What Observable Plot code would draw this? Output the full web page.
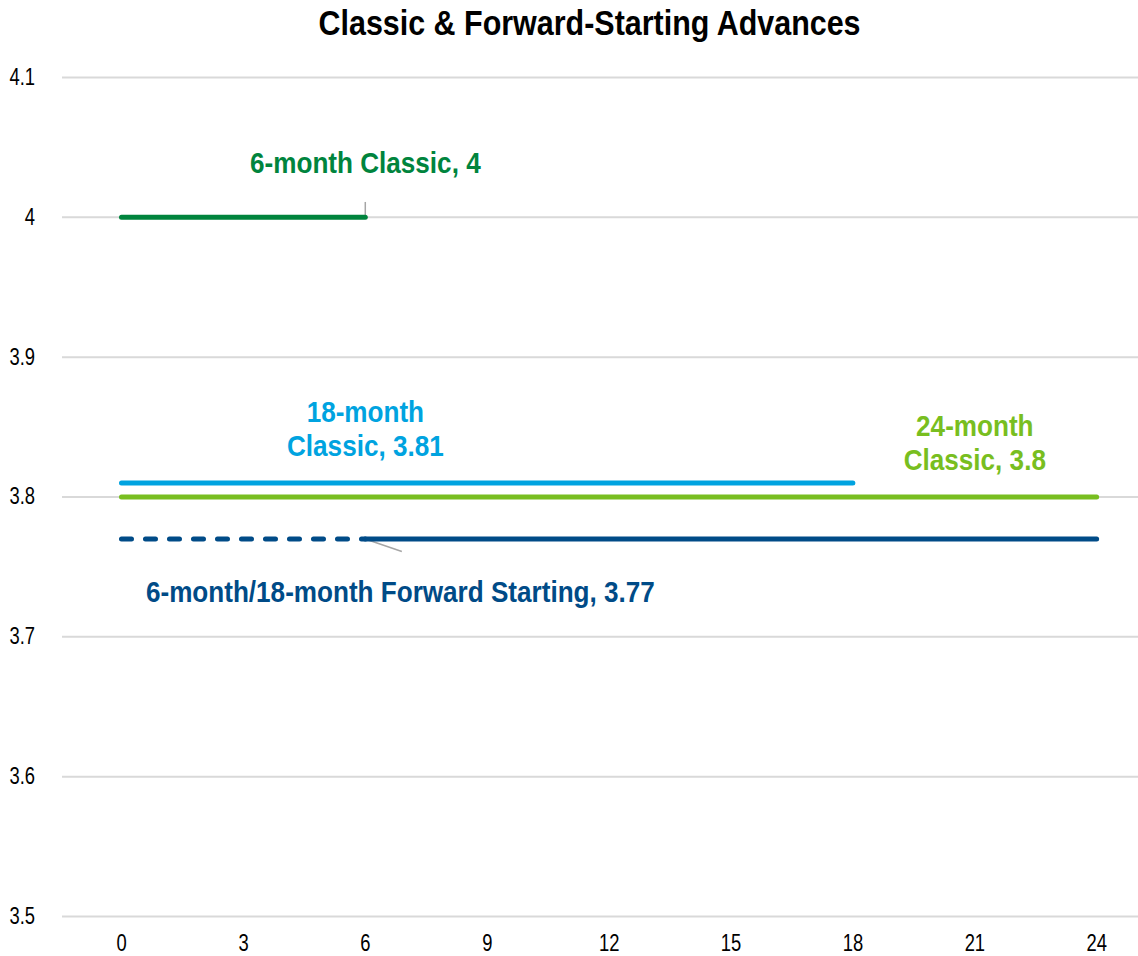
<!DOCTYPE html>
<html>
<head>
<meta charset="utf-8">
<script src="https://cdn.jsdelivr.net/npm/d3@7"></script>
<script src="https://cdn.jsdelivr.net/npm/@observablehq/plot@0.6"></script>
<style>
  html, body { margin: 0; padding: 0; background: #fff; }
  #title { height: 45px; line-height: 46px; text-align: center; padding-left: 42px; font-family: "Liberation Sans", Arial, sans-serif; font-weight: bold; font-size: 35px; color: #000; }
  #title span { display: inline-block; transform: scaleX(0.87); transform-origin: center; white-space: nowrap; }
  #chart svg { display: block; }
</style>
</head>
<body>
<div id="title"><span>Classic &amp; Forward-Starting Advances</span></div>
<div id="chart"></div>
<script>
// Data
const xTicks = [0, 3, 6, 9, 12, 15, 18, 21, 24];
const yTicks = [3.5, 3.6, 3.7, 3.8, 3.9, 4.0, 4.1];

const seriesNames = ["6-month Classic", "18-month Classic", "24-month Classic", "6-month/18-month Forward Starting"];
const seriesColors = ["#00843D", "#00A3E0", "#78BE20", "#004B87"];
const startMonths = [0, 0, 0, 6];
const endMonths = [6, 18, 24, 24];
const rates = [4.0, 3.81, 3.8, 3.77];
// forward-start waiting period (dashed)
const forwardWait = [{x1: 0, x2: 6, y: 3.77}];

const labels = [
  "6-month Classic, 4",
  "18-month\nClassic, 3.81",
  "24-month\nClassic, 3.8",
  "6-month/18-month Forward Starting, 3.77"
];
const labelAnchorX = [6, 6, 21, 6];

// leader lines (annotation)
const leaders = [
  {x1: 6, y1: 4.0, x2: 6, y2: 4.011},
  {x1: 6, y1: 3.77, x2: 6.9, y2: 3.761}
];

const segs = seriesNames.map((name, i) => ({
  name, color: seriesColors[i], x1: startMonths[i], x2: endMonths[i], y: rates[i]
}));
const labelData = seriesNames.map((name, i) => ({
  text: labels[i], color: seriesColors[i], x: labelAnchorX[i], y: rates[i]
}));

const font = '"Liberation Sans", Arial, sans-serif';

const chart = Plot.plot({
  width: 1138,
  height: 911,
  marginLeft: 62,
  marginRight: 0,
  marginTop: 32,
  marginBottom: 40,
  style: { fontFamily: font, fontSize: "23px", color: "#000", background: "#fff" },
  x: { domain: [-1.452, 25.03], label: null },
  y: { domain: [3.5, 4.1], label: null },
  marks: [
    Plot.gridY(yTicks, { stroke: "#d9d9d9", strokeOpacity: 1, strokeWidth: 2 }),
    Plot.axisX({ ticks: xTicks, tickSize: 0, tickPadding: 18, fontSize: 23, label: null }),
    Plot.axisY({ ticks: yTicks, tickSize: 0, tickPadding: 23, fontSize: 23, label: null, tickFormat: d => String(+d.toFixed(1)) }),
    Plot.link(leaders, { x1: "x1", y1: "y1", x2: "x2", y2: "y2", stroke: "#a6a6a6", strokeWidth: 1.5 }),
    Plot.link(forwardWait, { x1: "x1", x2: "x2", y1: "y", y2: "y", stroke: seriesColors[3], strokeWidth: 5, strokeLinecap: "round", strokeDasharray: "10,14" }),
    Plot.link(segs, { x1: "x1", x2: "x2", y1: "y", y2: "y", stroke: d => d.color, strokeWidth: 5, strokeLinecap: "round" }),
    Plot.text([labelData[0]], { x: "x", y: "y", text: "text", fill: "color", dy: -54, fontSize: 30, fontWeight: "bold" }),
    Plot.text([labelData[1]], { x: "x", y: "y", text: "text", fill: "color", dy: -55, fontSize: 30, fontWeight: "bold", lineHeight: 1.13 }),
    Plot.text([labelData[2]], { x: "x", y: "y", text: "text", fill: "color", dy: -55, fontSize: 30, fontWeight: "bold", lineHeight: 1.13 }),
    Plot.text([labelData[3]], { x: "x", y: "y", text: "text", fill: "color", dx: 31, dy: 53, fontSize: 30, fontWeight: "bold" })
  ]
});
document.getElementById("chart").appendChild(chart);

// Condense text horizontally (narrow font look)
const svgRect = chart.getBoundingClientRect();
chart.querySelectorAll("text").forEach(t => {
  const r = t.getBoundingClientRect();
  const anchor = getComputedStyle(t).textAnchor;
  const bold = (getComputedStyle(t).fontWeight | 0) >= 600;
  const s = bold ? 0.87 : 0.8;
  let px;
  if (anchor === "end") px = r.right - svgRect.left;
  else if (anchor === "start") px = r.left - svgRect.left;
  else px = (r.left + r.right) / 2 - svgRect.left;
  const g = document.createElementNS("http://www.w3.org/2000/svg", "g");
  g.setAttribute("transform", `translate(${px},0) scale(${s},1) translate(${-px},0)`);
  t.parentNode.insertBefore(g, t);
  g.appendChild(t);
});
</script>
</body>
</html>
